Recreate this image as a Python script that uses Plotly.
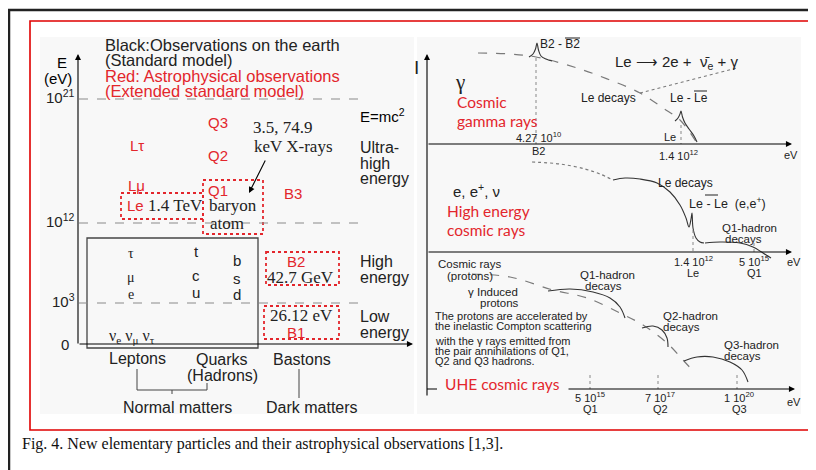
import plotly.graph_objects as go

RED = "#e3262c"
GRAY = "#7a7a7a"
DARK = "#333333"
SANS = "Liberation Sans, Arial, sans-serif"
SERIF = "Liberation Serif, Times New Roman, serif"
CAL = "Lato, Carlito, sans-serif"

# ---------------- left panel: energy levels of the particles ----------------
header = ["Black:Observations on the earth", "(Standard model)",
          "Red: Astrophysical observations", "(Extended standard model)"]
header_red = [False, False, True, True]
energy_levels = ["0", "10<sup>3</sup>", "10<sup>12</sup>", "10<sup>21</sup>"]
energy_ranges = ["Low", "energy", "High", "energy", "Ultra-", "high", "energy"]
columns = ["Leptons", "Quarks", "(Hadrons)", "Bastons"]
groups = ["Normal matters", "Dark matters"]
leptons = ["τ", "μ", "e"]
quarks_up = ["t", "c", "u"]
quarks_down = ["b", "s", "d"]
neutrinos = "ν<sub>e</sub> ν<sub>μ</sub> ν<sub>τ</sub>"
new_particles = ["Lτ", "Lμ", "Le", "Q3", "Q2", "Q1", "B3", "B2", "B1"]
serif_notes = ["3.5, 74.9", "keV X-rays", "1.4 TeV", "baryon", "atom", "42.7 GeV", "26.12 eV"]

# ---------------- right panel: spectra ----------------
gamma_marks = ["4.27 10<sup>10</sup>", "B2", "Le", "1.4 10<sup>12</sup>"]
cr_marks = ["1.4 10<sup>12</sup>", "Le", "5 10<sup>15</sup>", "Q1"]
uhe_marks = ["5 10<sup>15</sup>", "Q1", "7 10<sup>17</sup>", "Q2", "1 10<sup>20</sup>", "Q3"]
compton_note = ["The protons are accelerated by", "the inelastic Compton scattering",
                "with the γ rays emitted from", "the pair annihilations of Q1,",
                "Q2 and Q3 hadrons."]
caption = "Fig. 4. New elementary particles and their astrophysical observations [1,3]."

# curves (screen units)
gamma_x = [478, 510, 536, 577, 610, 640, 663, 680, 697]
gamma_y = [53, 54, 57, 68, 80, 93, 108, 120, 143]
b2_peak_x = [529, 533, 535.5, 537, 538.5, 541, 546, 552]
b2_peak_y = [57, 54, 49, 43, 50, 56, 59, 61]
le_peak_x = [675, 678, 680, 681, 682.5, 685, 689, 694, 697]
le_peak_y = [121, 118, 114, 111, 117, 123, 129, 136, 142]
decay_x = [640, 737]
decay_y = [93, 68]
cr_dot_x = [532, 560, 585, 600, 613]
cr_dot_y = [162, 164, 169, 174, 180]
cr_x = [613, 625, 640, 657, 670, 680, 686, 689, 691, 692, 693, 696, 700, 704]
cr_y = [180, 178, 179, 183, 192, 205, 218, 227, 219, 213, 228, 238, 242, 243]
q1cr_x = [705, 720, 740, 753, 763, 771]
q1cr_y = [243, 242, 243, 247, 253, 258]
uhe_x = [472, 510, 553, 587, 620, 643, 667, 683, 695]
uhe_y = [274, 277, 290, 298, 313, 325, 343, 360, 373]
q1_arc_x = [548, 570, 593, 610, 620, 625]
q1_arc_y = [291, 289, 292, 298, 307, 318]
q2_arc_x = [642, 653, 662, 667, 668]
q2_arc_y = [328, 326, 330, 338, 347]
q3_arc_x = [684, 697, 713, 730, 742, 748]
q3_arc_y = [361, 357, 357, 362, 370, 382]

fig = go.Figure()
shapes = []
ann = []


def txt(x, y, s, size=12, color="black", font=SANS, xa="center"):
    ann.append(dict(x=x, y=y, text=s, showarrow=False, xanchor=xa, yanchor="middle",
                    font=dict(size=size, color=color, family=font)))


def line(x0, y0, x1, y1, color="black", width=1, dash="solid"):
    shapes.append(dict(type="line", x0=x0, y0=y0, x1=x1, y1=y1,
                       line=dict(color=color, width=width, dash=dash)))


def box(x0, y0, x1, y1, color, width=1.3, dash="solid", fill=None):
    shapes.append(dict(type="rect", x0=x0, y0=y0, x1=x1, y1=y1, layer="below",
                       fillcolor=fill if fill else "rgba(0,0,0,0)",
                       line=dict(color=color, width=width, dash=dash)))


def arrow(x0, y0, x1, y1, width=1.1, color="black"):
    ann.append(dict(x=x1, y=y1, ax=x0, ay=y0, xref="x", yref="y", axref="x", ayref="y",
                    text="", showarrow=True, arrowhead=2, arrowsize=1.1,
                    arrowwidth=width, arrowcolor=color))


def curve(xs, ys, color=GRAY, dash="dash", width=1.2):
    fig.add_trace(go.Scatter(x=xs, y=ys, mode="lines", hoverinfo="skip",
                             line=dict(color=color, dash=dash, width=width, shape="spline")))


# frames
box(40, 37, 414, 414, "rgba(0,0,0,0)", fill="#f8f8f8")
box(417, 37, 801, 414, "rgba(0,0,0,0)", fill="#f8f8f8")
box(30, 21, 809, 430, "#e00000", width=1.6)
line(8, 10, 816, 10, "#222", 2.5)
line(9, 10, 9, 470, "#222", 2.5)

# ---- left panel ----
for i, s in enumerate(header):
    txt(103, 45 + 15.3 * i, s, 16.5, RED if header_red[i] else "#222", SANS, "left")
txt(62, 62, "E", 15)
txt(58, 78, "(eV)", 15)
arrow(78, 345, 78, 54)
arrow(78, 344, 413, 344)
level_y = [344, 303, 223, 99]
for s, y in zip(energy_levels, level_y):
    txt(77 if s != "0" else 71, y - 3 if s != "0" else y, s, 15, "#222", SANS, "right")
    if s != "0":
        line(79, y, 365, y, "#8a8a8a", 1, "dash")
txt(382, 115, "E=mc<sup>2</sup>", 15)
range_y = [316, 332, 261, 277, 147, 163, 178]
for s, y in zip(energy_ranges, range_y):
    txt(358, y, s, 16, "#222", SANS, "left")

# standard model box
box(87, 238, 258, 348, "#444", 1.3)
for j, y in enumerate([253, 277, 294]):
    txt(131, y, leptons[j], 14, "#222", SERIF)
    txt(196, y - 2, quarks_up[j], 15, "#222", SANS)
for j, y in enumerate([260, 278, 294]):
    txt(237, y, quarks_down[j], 15, "#222", SANS)
txt(132, 336, neutrinos, 16, "#222", SERIF)

# new particles (red)
np_x = [137, 136, 135, 218, 218, 218, 293, 296, 296]
np_y = [145, 185, 205, 122, 155, 190, 193, 261, 332]
for s, x, y in zip(new_particles, np_x, np_y):
    txt(x, y, s, 15, RED, SANS)
box(121, 193, 203, 219, RED, 1.8, "dot")
box(203, 180, 263, 234, RED, 1.8, "dot")
box(266, 252, 339, 285, RED, 1.8, "dot")
box(264, 306, 339, 339, RED, 1.8, "dot")
sn_x = [283, 293, 175, 233, 227, 300, 301]
sn_y = [127, 146, 205, 205, 223, 277, 315]
for s, x, y in zip(serif_notes, sn_x, sn_y):
    txt(x, y, s, 17, "#222", SERIF)
arrow(266, 159, 249, 193)

# categories
col_x = [137, 222, 222, 302]
col_y = [358, 359, 375, 359]
for s, x, y in zip(columns, col_x, col_y):
    txt(x, y, s, 16, "#222", SANS)
line(137, 369, 137, 390, "#444")
line(207, 383, 207, 390, "#444")
line(137, 390, 207, 390, "#444")
line(172, 390, 172, 394, "#444")
line(299, 369, 299, 398, "#444")
txt(177, 407, groups[0], 16, "#222", SANS)
txt(312, 407, groups[1], 16, "#222", SANS)

# ---- right panel ----
txt(416, 67, "I", 19, "#222", SANS)
arrow(427, 397, 427, 54)
arrow(427, 144, 792, 144)
arrow(427, 252, 792, 252)
arrow(567, 389, 795, 389)
line(427, 389, 437, 389)

# gamma rays
txt(460, 82, "γ", 21, "#222", SERIF)
txt(455, 102, "Cosmic", 15.5, RED, CAL, "left")
txt(455, 121, "gamma rays", 15.5, RED, CAL, "left")
curve(gamma_x, gamma_y)
curve(decay_x, decay_y, dash="dot")
curve(b2_peak_x, b2_peak_y, DARK, "solid", 1.1)
curve(le_peak_x, le_peak_y, DARK, "solid", 1.1)
line(536, 58, 536, 144, "#888", 1, "dot")
line(681, 125, 681, 144, "#888", 1, "dot")
txt(538, 44, "B2 - B2", 12, "#222", SANS, "left")
line(565, 38, 580, 38, "#222", 1)
txt(613, 62, "Le ⟶ 2e +  ν̄<sub>e</sub> + γ", 15, "#222", SANS, "left")
txt(638, 98, "Le decays", 12, "#222", SANS, "right")
txt(668, 98, "Le - Le", 12, "#222", SANS, "left")
line(694, 91, 707, 91, "#222", 1)
gm_x = [538, 538, 670, 678]
gm_y = [137, 151, 137, 155]
for s, x, y in zip(gamma_marks, gm_x, gm_y):
    txt(x, y, s, 11, "#222", SANS)
txt(791, 155, "eV", 11, "#222", SANS)

# high energy cosmic rays
txt(476, 190, "e, e<sup>+</sup>, ν", 15, "#222", SANS)
txt(445, 211, "High energy", 15.5, RED, CAL, "left")
txt(445, 230, "cosmic rays", 15.5, RED, CAL, "left")
curve(cr_dot_x, cr_dot_y, dash="dot")
curve(cr_x, cr_y, DARK, "solid", 1.1)
curve(q1cr_x, q1cr_y, DARK, "solid", 1.1)
line(693, 230, 693, 252, "#888", 1, "dot")
line(754, 243, 754, 252, "#888", 1, "dot")
txt(685, 183, "Le decays", 12, "#222", SANS)
txt(687, 203, "Le - Le  (e,e<sup>+</sup>)", 12.5, "#222", SANS, "left")
line(705, 195, 718, 195, "#222", 1)
txt(749, 228, "Q1-hadron", 11.5, "#222", SANS)
txt(743, 239, "decays", 11.5, "#222", SANS)
cm_x = [693, 693, 754, 754]
cm_y = [261, 273, 261, 273]
for s, x, y in zip(cr_marks, cm_x, cm_y):
    txt(x, y, s, 11, "#222", SANS)
txt(794, 262, "eV", 11, "#222", SANS)

# UHE cosmic rays
txt(470, 264, "Cosmic rays", 11.5, "#222", SANS)
txt(470, 276, "(protons)", 11.5, "#222", SANS)
txt(493, 292, "γ Induced", 11.5, "#222", SANS)
txt(499, 303, "protons", 11.5, "#222", SANS)
curve(uhe_x, uhe_y)
curve(q1_arc_x, q1_arc_y, DARK, "solid", 1.1)
curve(q2_arc_x, q2_arc_y, DARK, "solid", 1.1)
curve(q3_arc_x, q3_arc_y, DARK, "solid", 1.1)
txt(607, 275, "Q1-hadron", 11.5, "#222", SANS)
txt(603, 286, "decays", 11.5, "#222", SANS)
txt(661, 316, "Q2-hadron", 11.5, "#222", SANS, "left")
txt(661, 327, "decays", 11.5, "#222", SANS, "left")
txt(722, 345, "Q3-hadron", 11.5, "#222", SANS, "left")
txt(722, 356, "decays", 11.5, "#222", SANS, "left")
for s, y in zip(compton_note, [316, 326, 341, 351, 361]):
    txt(433, y, s, 11, "#222", SANS, "left")
txt(443, 384, "UHE cosmic rays", 15.5, RED, CAL, "left")
for x in [590, 658, 737]:
    line(x, 375, x, 389, "#888", 1, "dot")
um_x = [590, 590, 660, 660, 739, 739]
um_y = [397, 409, 397, 409, 397, 409]
for s, x, y in zip(uhe_marks, um_x, um_y):
    txt(x, y, s, 11, "#222", SANS)
txt(794, 402, "eV", 11, "#222", SANS)

# caption
txt(20, 444, caption, 16, "#111", SERIF, "left")

# the page body adds an 8px offset, so the axes start at 8
fig.update_layout(
    width=808, height=462, margin=dict(l=0, r=0, t=0, b=0),
    paper_bgcolor="white", plot_bgcolor="white", showlegend=False,
    xaxis=dict(range=[8, 816], visible=False, fixedrange=True),
    yaxis=dict(range=[470, 8], visible=False, fixedrange=True),
    shapes=shapes, annotations=ann,
)
fig.write_html("out.html")
